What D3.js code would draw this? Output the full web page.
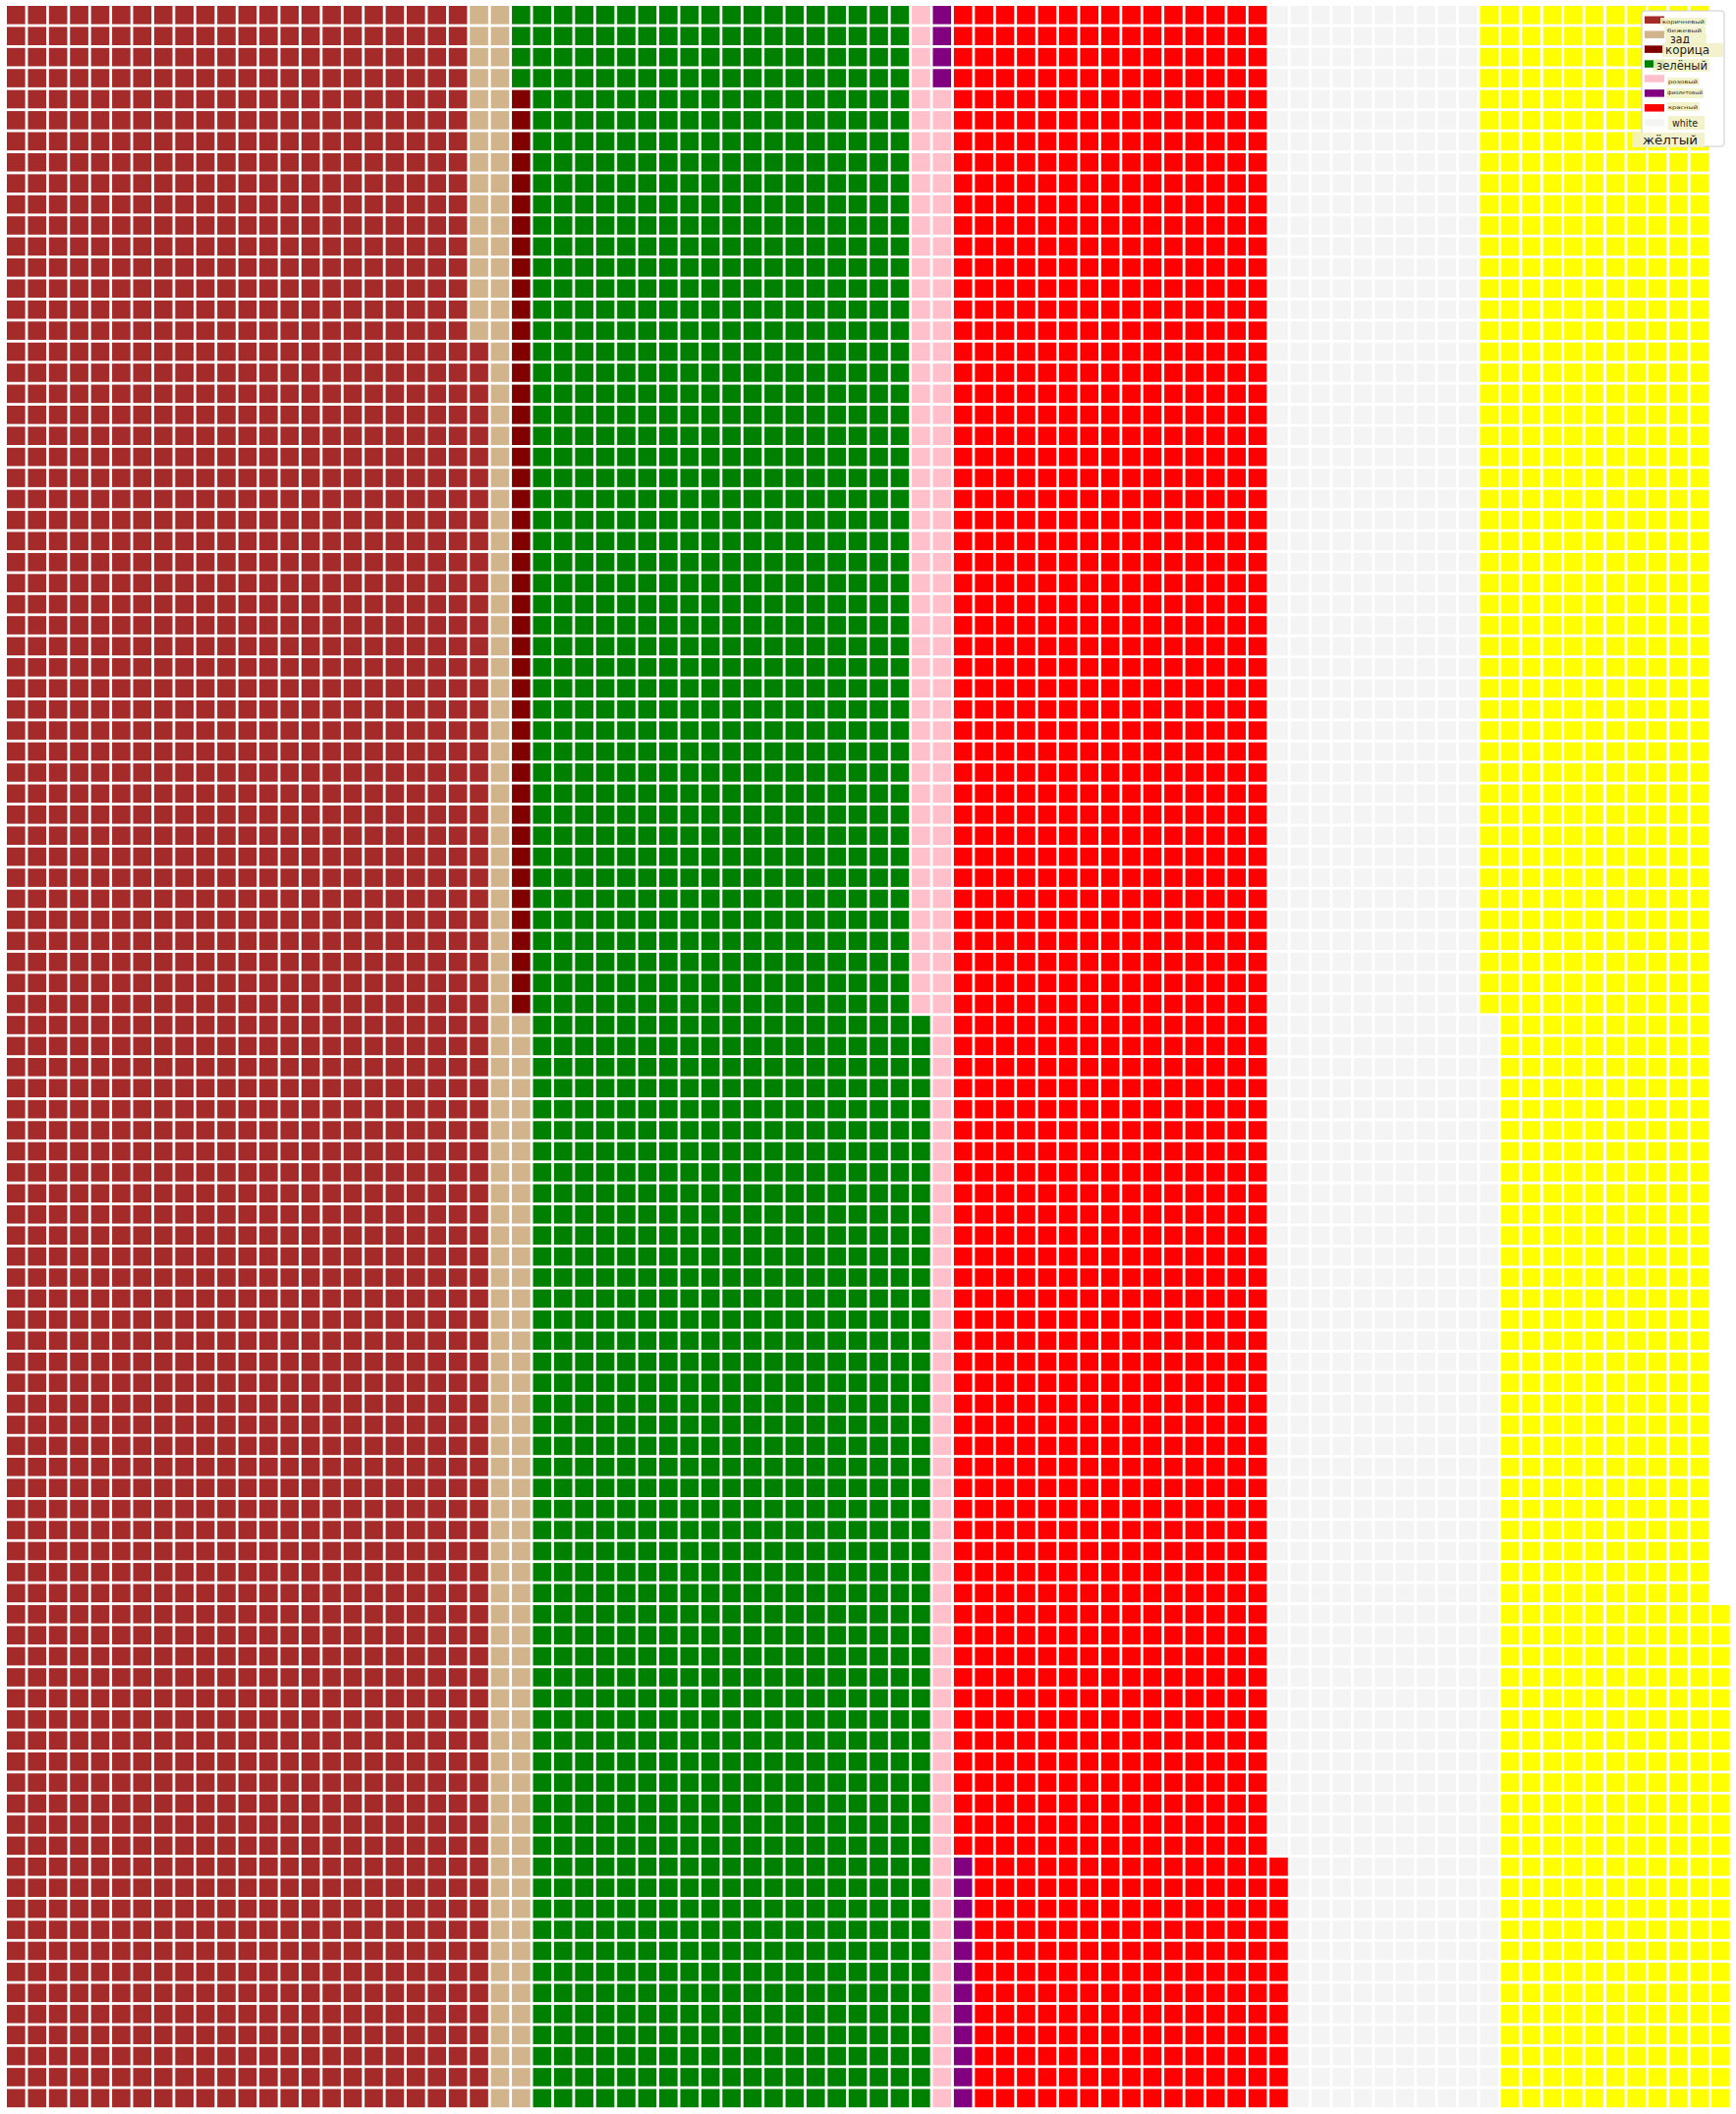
<!DOCTYPE html>
<html>
<head>
<meta charset="utf-8">
<script src="https://cdn.jsdelivr.net/npm/d3@7"></script>
<style>
  html, body { margin: 0; padding: 0; background: #ffffff; }
  svg { display: block; }
</style>
</head>
<body>
<svg id="chart" width="1767" height="2152"></svg>
<script>
// ---- data ----
const categories = ["коричневый", "бежевый", "корица", "зелёный", "розовый", "фиолетовый", "красный", "white", "жёлтый"];
const counts     = [2284, 168, 44, 1856, 144, 16, 1500, 1040, 1072];
const colors     = ["#a52a2a", "#d2b48c", "#800000", "#008000", "#ffc0cb", "#800080", "#ff0000", "#f4f4f4", "#ffff00"];
const nCols = 82;
const nRows = 100;

// legend entries
const legendPatchColors = ["#a52a2a", "#d2b48c", "#800000", "#008000", "#ffc0cb", "#800080", "#ff0000", "#f4f4f4"];
const legendLabels = ["коричневый", "бежевый", "зад", "корица", "зелёный", "розовый", "фиолетовый", "красный", "white", "жёлтый"];
const legendFont   = [5, 5, 11.5, 12.5, 12.5, 5, 5, 5, 10, 13];

// ---- layout ----
const svg = d3.select("#chart");
const pitch = 21.42, gap = 2.8;
const x = d3.scaleBand().domain(d3.range(nCols)).range([7, 7 + nCols * pitch - gap]).paddingInner(gap / pitch).paddingOuter(0);
const y = d3.scaleBand().domain(d3.range(nRows)).range([6, 6 + nRows * pitch - gap]).paddingInner(gap / pitch).paddingOuter(0);

// fill column by column, bottom to top
const cells = [];
let idx = 0;
categories.forEach((c, ci) => {
  for (let k = 0; k < counts[ci]; k++) {
    const col = Math.floor(idx / nRows);
    const row = nRows - 1 - (idx % nRows);
    cells.push({ col, row, ci });
    idx++;
  }
});

svg.append("g").selectAll("rect").data(cells).join("rect")
  .attr("x", d => x(d.col))
  .attr("y", d => y(d.row))
  .attr("width", x.bandwidth())
  .attr("height", y.bandwidth())
  .attr("fill", d => colors[d.ci]);

// ---- legend ----
const lg = svg.append("g");
lg.append("rect")
  .attr("x", 1671).attr("y", 11).attr("width", 84).attr("height", 138)
  .attr("rx", 3).attr("ry", 3)
  .attr("fill", "#ffffff").attr("stroke", "#cccccc").attr("stroke-width", 1);

const patchY = d3.scaleLinear().domain([0, 7]).range([16.5, 121]);
lg.selectAll("rect.patch").data(legendPatchColors).join("rect")
  .attr("class", "patch")
  .attr("x", 1674).attr("y", (d, i) => patchY(i))
  .attr("width", 20).attr("height", 7.5)
  .attr("fill", d => d);

// label geometry: [textX0, textX1, centreY, bgX0, bgX1, bgY0, bgY1]
const labelGeom = [
  [1692, 1735, 22, 1690, 1737, 18, 26],
  [1697, 1732, 31, 1694, 1736, 27, 35],
  [1700, 1720, 39.5, 1695, 1737, 34, 46],
  [1695, 1740, 51, 1692, 1754, 44, 58],
  [1686, 1738, 66.5, 1683, 1740, 60, 73],
  [1698, 1728, 83, 1697, 1730, 79, 87],
  [1697, 1733, 94, 1696, 1734, 90, 100],
  [1698, 1728, 109, 1697, 1730, 104, 113],
  [1702, 1728, 125, 1698, 1735, 118, 132],
  [1672, 1728, 142, 1661, 1735, 135, 150]
];

const lab = lg.selectAll("g.lab").data(legendLabels).join("g").attr("class", "lab");
lab.append("rect")
  .attr("x", (d, i) => labelGeom[i][3])
  .attr("y", (d, i) => labelGeom[i][5])
  .attr("width", (d, i) => labelGeom[i][4] - labelGeom[i][3])
  .attr("height", (d, i) => labelGeom[i][6] - labelGeom[i][5])
  .attr("fill", "#f1f1c6").attr("fill-opacity", 0.9);
lab.append("text")
  .attr("x", (d, i) => labelGeom[i][0])
  .attr("y", (d, i) => labelGeom[i][2])
  .attr("dy", "0.35em")
  .attr("textLength", (d, i) => labelGeom[i][1] - labelGeom[i][0])
  .attr("lengthAdjust", "spacingAndGlyphs")
  .attr("font-family", "DejaVu Sans, sans-serif")
  .attr("font-size", (d, i) => legendFont[i])
  .attr("fill", "#222222")
  .text(d => d);
</script>
</body>
</html>
